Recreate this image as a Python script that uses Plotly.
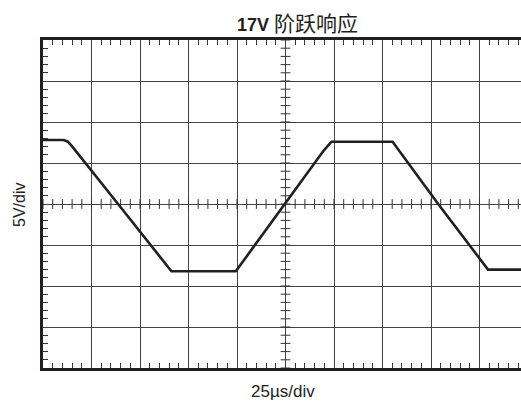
import numpy as np
import plotly.graph_objects as go

# Waveform samples: time (µs) and voltage (V)
time_us = [0, 10.7, 12.8, 14.9, 38.7, 66.2, 99.4, 124.7, 138.6, 144.8, 148.7, 180.2, 203.7, 229.4, 250.0]
volt_v = [7.8, 7.8, 7.6, 7.05, 0.0, -8.2, -8.2, 0.0, 4.5, 6.55, 7.6, 7.6, 0.0, -8.0, -8.0]

title_bold = "17V"
title_rest = "阶跃响应"
x_label = "25µs/div"
y_label = "5V/div"

x_div = 25   # µs per division
y_div = 5    # V per division

fig = go.Figure()

# centre-cross minor ticks
cx = np.arange(0, 250 + 0.1, x_div / 5)
cy = np.arange(-20, 20 + 0.1, y_div / 5)
fig.add_trace(go.Scatter(x=cx, y=np.zeros_like(cx), mode="markers",
                         marker=dict(symbol="line-ns-open", size=7, color="#333", line=dict(color="#333", width=1)),
                         hoverinfo="skip", showlegend=False))
fig.add_trace(go.Scatter(x=np.full_like(cy, 125.0), y=cy, mode="markers",
                         marker=dict(symbol="line-ew-open", size=7, color="#333", line=dict(color="#333", width=1)),
                         hoverinfo="skip", showlegend=False))

fig.add_trace(go.Scatter(x=time_us, y=volt_v, mode="lines",
                         line=dict(color="#231f20", width=2.6),
                         hoverinfo="skip", showlegend=False))

font_family = "Arial, 'Liberation Sans', 'Noto Sans CJK SC', sans-serif"

W = 530  # full chart width; the 521-px window crops its right edge like the reference
PW = 485
fig.update_layout(
    width=W, height=401,
    margin=dict(l=43, r=W - 43 - PW, t=40, b=33, autoexpand=False),
    paper_bgcolor="white", plot_bgcolor="white",
    font=dict(family=font_family, color="#231f20", size=16),
    showlegend=False,
    annotations=[
        dict(text=f"<b>{title_bold}</b> <span style='font-size:21px'>{title_rest}</span>",
             xref="paper", yref="paper", x=(297 - 43) / PW, y=1 + 17 / 328,
             xanchor="center", yanchor="middle", showarrow=False, font=dict(size=18)),
        dict(text=x_label, xref="paper", yref="paper", x=(283 - 43) / PW, y=-(391 - 368) / 328,
             xanchor="center", yanchor="middle", showarrow=False, font=dict(size=17)),
        dict(text=y_label, xref="paper", yref="paper", x=-(43 - 19) / PW, y=(368 - 205) / 328,
             xanchor="center", yanchor="middle", showarrow=False, textangle=-90, font=dict(size=16)),
    ],
)

fig.update_xaxes(
    range=[0, 250], dtick=x_div, tick0=0, automargin=False,
    showgrid=True, gridcolor="#444", gridwidth=1,
    showticklabels=False, zeroline=False,
    showline=True, linecolor="#231f20", linewidth=2.5, mirror="ticks",
    ticks="",
    minor=dict(dtick=x_div / 5, ticks="inside", ticklen=5, tickcolor="#333", tickwidth=1, showgrid=False),
)
fig.update_yaxes(
    range=[-20, 20], dtick=y_div, tick0=0, automargin=False,
    showgrid=True, gridcolor="#444", gridwidth=1,
    showticklabels=False, zeroline=False,
    showline=True, linecolor="#231f20", linewidth=2.5, mirror="ticks",
    ticks="",
    minor=dict(dtick=y_div / 5, ticks="inside", ticklen=5, tickcolor="#333", tickwidth=1, showgrid=False),
)

fig.write_html("out.html", config={"displayModeBar": False},
               post_script="document.body.style.margin='0';document.body.style.overflow='hidden';"
                           "document.documentElement.style.overflow='hidden';")
